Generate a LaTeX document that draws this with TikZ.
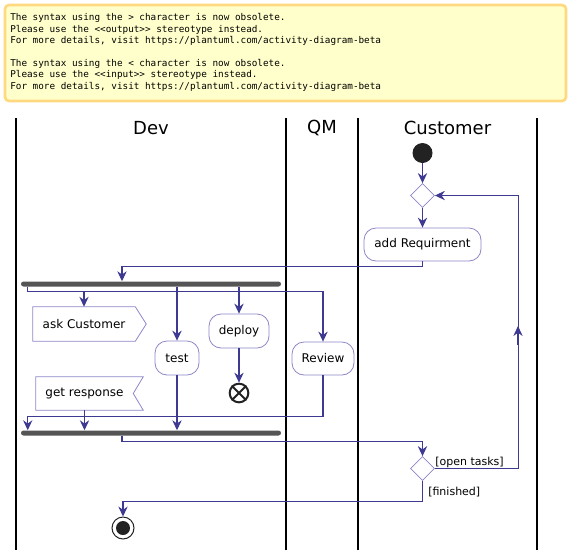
\documentclass[tikz,border=0pt]{standalone}
\usepackage{fontspec}
\setmainfont{DejaVu Sans}
\newfontfamily\notemono{DejaVu Sans Mono}
\usetikzlibrary{arrows.meta,shapes.geometric}
\definecolor{arrowc}{RGB}{62,57,145}
\definecolor{boxc}{RGB}{140,135,200}
\definecolor{notebg}{RGB}{255,255,204}
\definecolor{noteline}{RGB}{255,217,128}
\definecolor{barc}{RGB}{85,85,85}
\definecolor{darkc}{RGB}{34,34,34}
\begin{document}
\begin{tikzpicture}[x=0.75pt,y=-0.75pt,
  arr/.style={draw=arrowc, line width=0.8pt, -{Stealth[length=7.5pt,width=7pt,inset=2.5pt]}},
  conn/.style={draw=arrowc, line width=0.8pt},
  act/.style={draw=boxc, fill=white, rounded corners=9pt, line width=0.6pt, inner sep=0pt, font=\fontsize{9pt}{11pt}\selectfont},
  io/.style={inner sep=0pt, font=\fontsize{9pt}{11pt}\selectfont},
  ioline/.style={draw=boxc, line width=0.6pt},
  lane/.style={draw=black, line width=1.2pt},
  lanetitle/.style={font=\fontsize{13.5pt}{16pt}\selectfont},
  guard/.style={font=\fontsize{8.25pt}{10pt}\selectfont, anchor=west, inner sep=0pt},
  dec/.style={diamond, draw=boxc, fill=white, line width=0.6pt, minimum width=18pt, minimum height=18pt, inner sep=0pt, shape aspect=1},
  syncbar/.style={fill=barc, rounded corners=1.875pt, minimum height=3.75pt, minimum width=195pt, inner sep=0pt},
  notebox/.style={draw=noteline, fill=notebg, line width=2pt, rounded corners=3pt, minimum width=420.75pt, minimum height=72pt, inner sep=0pt},
  notetext/.style={anchor=north west, inner sep=0pt, align=left, font=\notemono\fontsize{7pt}{8.55pt}\selectfont}
]
\useasboundingbox (0,0) rectangle (570,550);

% note
\node[notebox] (note) at (285.5,53) {};
\node[notetext] (notetxt) at (10,13.5) {The syntax using the > character is now obsolete.\\
Please use the <{}<output>{}> stereotype instead.\\
For more details, visit https://plantuml.com/activity-diagram-beta\\[8.55pt]
The syntax using the < character is now obsolete.\\
Please use the <{}<input>{}> stereotype instead.\\
For more details, visit https://plantuml.com/activity-diagram-beta};

% lanes
\draw[lane] (16,118) -- (16,550);
\draw[lane] (286,118) -- (286,550);
\draw[lane] (358,118) -- (358,550);
\draw[lane] (537,118) -- (537,550);
\node[lanetitle] (tdev) at (151,128) {Dev};
\node[lanetitle] (tqm) at (322,128) {QM};
\node[lanetitle] (tcust) at (447.5,128) {Customer};

% nodes
\node[circle, fill=darkc, minimum size=15pt, inner sep=0pt] (start) at (422.5,153) {};
\node[dec] (d1) at (422.5,195.5) {};
\node[act, minimum width=87.75pt, minimum height=24.75pt] (addreq) at (422.5,244.5) {add Requirment};
\node[syncbar] (fork) at (151,284) {};
\node[io, minimum width=76.5pt, minimum height=25.5pt] (ask) at (84,324) {ask Customer};
\draw[ioline] (ask.north west) -- (ask.north east) -- ([xshift=8.25pt]ask.east) -- (ask.south east) -- (ask.south west) -- cycle;
\node[io, minimum width=72.75pt, minimum height=24.75pt] (getr) at (84.5,393.5) {get response};
\draw[ioline] (getr.north west) -- ([xshift=7.5pt]getr.north east) -- (getr.east) -- ([xshift=7.5pt]getr.south east) -- (getr.south west) -- cycle;
\node[act, minimum width=33pt, minimum height=25.5pt] (test) at (177,358) {test};
\node[act, minimum width=45pt, minimum height=25.5pt] (deploy) at (239,331) {deploy};
\node[circle, draw=darkc, line width=1.5pt, minimum size=14pt, inner sep=0pt] (kill) at (239,393) {};
\draw[darkc, line width=1.5pt] (kill.45) -- (kill.225) (kill.135) -- (kill.315);
\node[act, minimum width=46.5pt, minimum height=24.75pt] (review) at (323,358.5) {Review};
\node[syncbar] (join) at (151,433) {};
\node[dec] (d2) at (422.5,468.5) {};
\node[circle, draw=darkc, line width=0.75pt, minimum size=16.5pt, inner sep=0pt] (stop) at (123,528) {};
\fill[darkc] (stop.center) circle[radius=5.25pt];

% connectors
\draw[arr] (start) -- (d1);
\draw[arr] (d1) -- (addreq);
\draw[arr] (addreq.south) -- ++(0,5) -| ([xshift=-21.75pt]fork.north);
\draw[arr] ([xshift=5.25pt]fork.south west) -- ++(0,4.5) -| (review.north);
\draw[arr] (ask.north) ++(0,-16) -- (ask.north);
\draw[arr] (test.north |- fork.south) -- (test.north);
\draw[arr] (deploy.north |- fork.south) -- (deploy.north);
\draw[arr] (deploy) -- (kill);
\draw[arr] (getr.south) -- (getr.south |- join.north);
\draw[arr] (test.south) -- (test.south |- join.north);
\draw[arr] (review.south) -- ++(0,41) -| ([xshift=5.25pt]join.north west);
\draw[arr] ([xshift=-21.75pt]join.south) -- ++(0,6) -| (d2.north);
\draw[arr] (d2.east) -- ++(83.5,0) |- (d1.east);
\coordinate (midlow) at (518,345);
\coordinate (midtip) at (518,326);
\draw[arr] (midlow) -- (midtip);
\draw[arr] (d2.south) -- ++(0,21) -| (stop.north);
\node[guard] (gopen) at (435,462) {[open tasks]};
\node[guard] (gfin) at (428,492) {[finished]};
\end{tikzpicture}
\end{document}
